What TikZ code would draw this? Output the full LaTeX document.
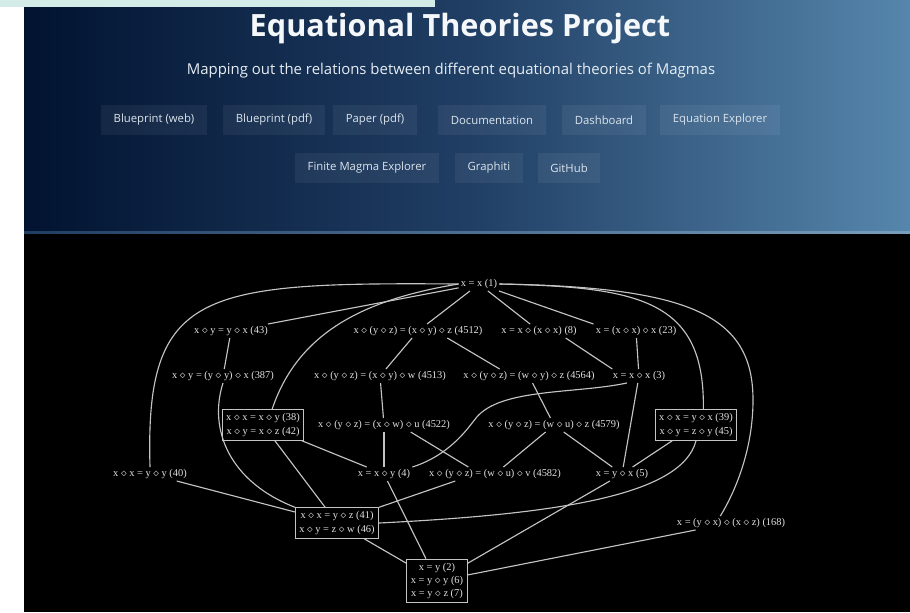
\documentclass[tikz,border=0pt]{standalone}
\usepackage{fontspec}
\setmainfont{Liberation Serif}
\newfontfamily\uifont{Open Sans}
\usepackage{xcolor}
\usetikzlibrary{calc}
\definecolor{navyl}{RGB}{1,19,48}
\definecolor{navym}{RGB}{32,62,100}
\definecolor{navyr}{RGB}{86,134,172}
\definecolor{topstrip}{RGB}{212,236,232}
\definecolor{eqtext}{RGB}{226,226,226}
\definecolor{eqline}{RGB}{196,196,196}
\newcommand{\dm}{$\diamond$}
\tikzset{
  eqn/.style={text=eqtext,font=\fontsize{7.8}{9.8}\selectfont,inner sep=1.5pt},
  eqbox/.style={eqn,draw=eqline,line width=0.75pt,align=center,inner sep=3pt},
  rel/.style={draw=eqline,line width=0.85pt},
  navbtn/.style={fill=white,fill opacity=0.06,text opacity=1,text=white!78!navyr,
    font=\uifont\fontsize{8.5}{10}\selectfont,inner xsep=9.4pt,minimum height=22pt}
}

\begin{document}
\begin{tikzpicture}[x=0.75pt,y=-0.75pt]
  \useasboundingbox (0,0) rectangle (910,612);
  \shade[left color=navyl,right color=navyr,middle color=navym] (24,0) rectangle (910,233);
  \fill[topstrip] (0,0) rectangle (435,7);
  \fill[white] (0,7) rectangle (24,612);
  \shade[left color=navym,right color=navyr!80!white] (24,231) rectangle (910,234);
  \fill[black] (24,234) rectangle (910,612);

  \node[font=\uifont\bfseries\fontsize{23}{27}\selectfont,text=white!94!navyr] (title) at (460,29) {Equational Theories Project};
  \node[font=\uifont\fontsize{11.2}{13}\selectfont,text=white!85!navyr] (subtitle) at (451,71) {Mapping out the relations between different equational theories of Magmas};
  \node[navbtn] (bweb) at (154,120) {Blueprint (web)};
  \node[navbtn] (bpdf) at (274,120) {Blueprint (pdf)};
  \node[navbtn] (paper) at (375,120) {Paper (pdf)};
  \node[navbtn] (docs) at (492,120) {Documentation};
  \node[navbtn] (dash) at (604,120) {Dashboard};
  \node[navbtn] (eqexp) at (720,120) {Equation Explorer};
  \node[navbtn] (fmexp) at (367,168) {Finite Magma Explorer};
  \node[navbtn] (graphiti) at (489,168) {Graphiti};
  \node[navbtn] (github) at (569,168) {GitHub};

  \node[eqn] (n1) at (479,284) {x = x (1)};
  \node[eqn] (n43) at (231,331) {x \dm{} y = y \dm{} x (43)};
  \node[eqn] (n4512) at (418,331) {x \dm{} (y \dm{} z) = (x \dm{} y) \dm{} z (4512)};
  \node[eqn] (n8) at (539,331) {x = x \dm{} (x \dm{} x) (8)};
  \node[eqn] (n23) at (636,331) {x = (x \dm{} x) \dm{} x (23)};
  \node[eqn] (n387) at (223,376) {x \dm{} y = (y \dm{} y) \dm{} x (387)};
  \node[eqn] (n4513) at (380,376) {x \dm{} (y \dm{} z) = (x \dm{} y) \dm{} w (4513)};
  \node[eqn] (n4564) at (529,376) {x \dm{} (y \dm{} z) = (w \dm{} y) \dm{} z (4564)};
  \node[eqn] (n3) at (639,376) {x = x \dm{} x (3)};
  \node[eqbox] (n38) at (263,425) {x \dm{} x = x \dm{} y (38)\\x \dm{} y = x \dm{} z (42)};
  \node[eqn] (n4522) at (384,425) {x \dm{} (y \dm{} z) = (x \dm{} w) \dm{} u (4522)};
  \node[eqn] (n4579) at (554,425) {x \dm{} (y \dm{} z) = (w \dm{} u) \dm{} z (4579)};
  \node[eqbox] (n39) at (696,425) {x \dm{} x = y \dm{} x (39)\\x \dm{} y = z \dm{} y (45)};
  \node[eqn] (n40) at (150,474) {x \dm{} x = y \dm{} y (40)};
  \node[eqn] (n4) at (384,474) {x = x \dm{} y (4)};
  \node[eqn] (n4582) at (495,474) {x \dm{} (y \dm{} z) = (w \dm{} u) \dm{} v (4582)};
  \node[eqn] (n5) at (622,474) {x = y \dm{} x (5)};
  \node[eqbox] (n41) at (337,523) {x \dm{} x = y \dm{} z (41)\\x \dm{} y = z \dm{} w (46)};
  \node[eqn] (n168) at (731,523) {x = (y \dm{} x) \dm{} (x \dm{} z) (168)};
  \node[eqbox] (n2) at (437,581) {x = y (2)\\x = y \dm{} y (6)\\x = y \dm{} z (7)};

  \draw[rel] (n1) -- (n43);
  \draw[rel] (n1) -- (n4512);
  \draw[rel] (n1) -- (n8);
  \draw[rel] (n1) -- (n23.north west);
  \draw[rel] (n1.west) .. controls (200,282) and (145,290) .. (n40.north);
  \draw[rel] (n1.west) .. controls (360,300) and (297,335) .. (n38.60);
  \draw[rel] (n1.east) .. controls (640,287) and (705,300) .. (n39.65);
  \draw[rel] (n1.east) .. controls (690,287) and (753,315) .. (753,400)
    .. controls (753,450) and (735,492) .. ([xshift=-8pt]n168.north);
  \draw[rel] (n43) -- (n387);
  \draw[rel] (n4512) -- (n4513);
  \draw[rel] ([xshift=22pt]n4512.south) -- ([xshift=-22pt]n4564.north);
  \draw[rel] ([xshift=20pt]n8.south) -- ([xshift=-20pt]n3.north);
  \draw[rel] (n23) -- (n3);
  \draw[rel] (n387.south) .. controls (208,430) and (230,482) .. (n41.north west);
  \draw[rel] (n4513) -- (n4522);
  \draw[rel] (n4564) -- (n4579);
  \draw[rel] (n3.-150) .. controls (575,394) and (500,388) .. (476,418)
    .. controls (468,428) and (450,455) .. (n4.north east);
  \draw[rel] (n3) -- (n5);
  \draw[rel] (n38) -- (n4);
  \draw[rel] (n38) -- (n41);
  \draw[rel] (n4522) -- (n4);
  \draw[rel] ([xshift=20pt]n4522.south) -- ([xshift=-20pt]n4582.north);
  \draw[rel] (n4579) -- (n4582);
  \draw[rel] (n4579) -- (n5);
  \draw[rel] (n39) -- (n5);
  \draw[rel] (n39.south) .. controls (682,495) and (560,514) .. (n41.east);
  \draw[rel] (n40) -- (n41);
  \draw[rel] (n4) -- (n2);
  \draw[rel] (n4582.190) -- (n41.north east);
  \draw[rel] (n5) -- (n2);
  \draw[rel] (n41) -- (n2);
  \draw[rel] (n168) -- (n2);
\end{tikzpicture}
\end{document}
